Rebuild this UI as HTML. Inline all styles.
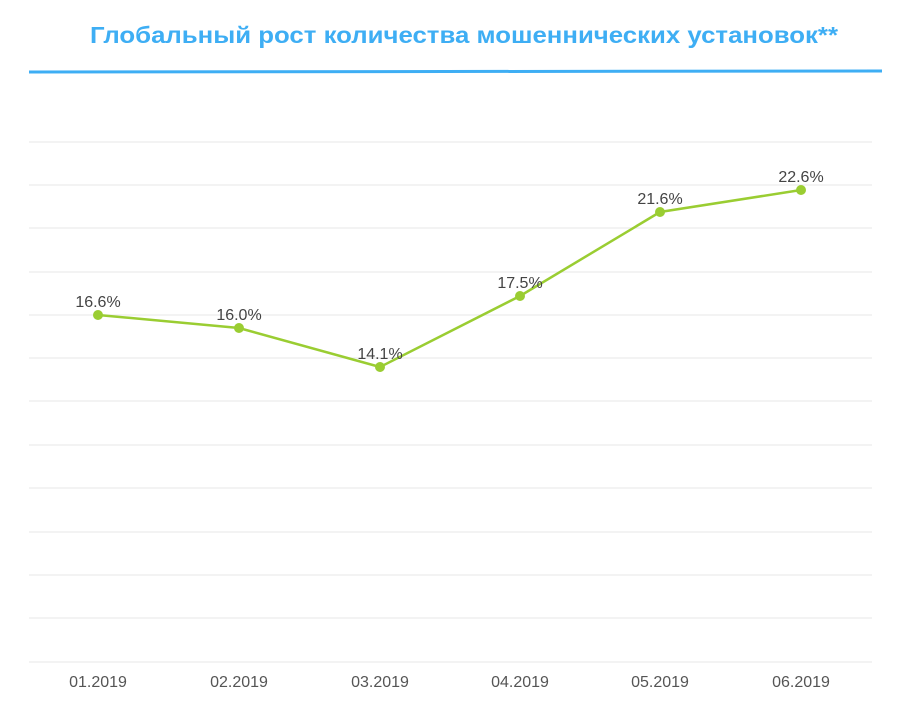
<!DOCTYPE html>
<html><head><meta charset="utf-8"><style>
body{margin:0;background:#fff;width:900px;height:718px;overflow:hidden}
</style></head><body>
<svg width="900" height="718" xmlns="http://www.w3.org/2000/svg" font-family="Liberation Sans, sans-serif">
<text x="90" y="43" textLength="748" lengthAdjust="spacingAndGlyphs" font-size="23" font-weight="bold" fill="#3eaef4">Глобальный рост количества мошеннических установок**</text>
<line x1="29" y1="72" x2="882" y2="71" stroke="#3eaef4" stroke-width="3"/>
<g stroke="#ececec" stroke-width="1.3">
<line x1="29" y1="142" x2="872" y2="142"/><line x1="29" y1="185" x2="872" y2="185"/>
<line x1="29" y1="228" x2="872" y2="228"/><line x1="29" y1="272" x2="872" y2="272"/>
<line x1="29" y1="315" x2="872" y2="315"/><line x1="29" y1="358" x2="872" y2="358"/>
<line x1="29" y1="401" x2="872" y2="401"/><line x1="29" y1="445" x2="872" y2="445"/>
<line x1="29" y1="488" x2="872" y2="488"/><line x1="29" y1="532" x2="872" y2="532"/>
<line x1="29" y1="575" x2="872" y2="575"/><line x1="29" y1="618" x2="872" y2="618"/>
<line x1="29" y1="662" x2="872" y2="662"/>
</g>
<polyline points="98,315 239,328 380,367 520,296 660,212 801,190" fill="none" stroke="#9acd32" stroke-width="2.5"/>
<g fill="#9acd32">
<circle cx="98" cy="315" r="5"/><circle cx="239" cy="328" r="5"/><circle cx="380" cy="367" r="5"/>
<circle cx="520" cy="296" r="5"/><circle cx="660" cy="212" r="5"/><circle cx="801" cy="190" r="5"/>
</g>
<g font-size="16" fill="#444" text-anchor="middle">
<text x="98" y="307">16.6%</text><text x="239" y="320">16.0%</text><text x="380" y="359">14.1%</text>
<text x="520" y="288">17.5%</text><text x="660" y="204">21.6%</text><text x="801" y="182">22.6%</text>
</g>
<g font-size="16" fill="#555" text-anchor="middle">
<text x="98" y="687">01.2019</text><text x="239" y="687">02.2019</text><text x="380" y="687">03.2019</text>
<text x="520" y="687">04.2019</text><text x="660" y="687">05.2019</text><text x="801" y="687">06.2019</text>
</g>
</svg>
</body></html>
